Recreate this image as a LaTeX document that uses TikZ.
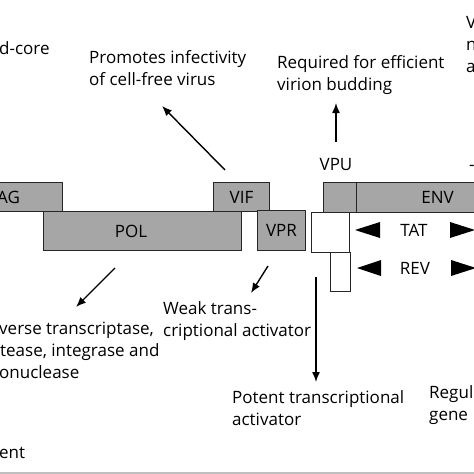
\documentclass[tikz,border=0pt]{standalone}
\usepackage{fontspec}
\setmainfont{Open Sans}
\usetikzlibrary{arrows.meta}

\tikzset{
  gene/.style={draw=black!85, fill=black!35, line width=1.1pt,
    minimum height=29pt, inner sep=0pt, anchor=north west,
    font=\fontsize{17}{22}\selectfont},
  regbox/.style={draw=black!85, fill=white, line width=1.1pt,
    inner sep=0pt, anchor=north west},
  txt/.style={anchor=base west, align=left, inner sep=0pt,
    font=\fontsize{17}{22}\selectfont},
  arr/.style={line width=1.4pt, -{Latex[length=10pt,width=8pt]}}
}

\begin{document}
\begin{tikzpicture}[x=1pt, y=-1pt]
    \useasboundingbox (0,0) rectangle (474,474);
    \clip (0,0) rectangle (474,474);

    % genes
    \node[gene, minimum width=108pt] (gag) at (-46,182) {AG};
    \node[gene, minimum width=198pt, minimum height=39pt] (pol) at (43,211) {};
    \node[txt, anchor=center] (pollbl) at (131,231) {POL};
    \node[gene, minimum width=56pt] (vif) at (213,182) {VIF};
    \node[gene, minimum width=48pt, minimum height=40pt] (vpr) at (257,210) {VPR};
    \node[gene, minimum width=33pt, minimum height=30pt] (vpu) at (323,182) {};
    \node[gene, minimum width=162pt, minimum height=30pt] (env) at (356,182) {ENV};
    \node[regbox, minimum width=38pt, minimum height=40pt] (tat) at (311,212) {};
    \node[regbox, minimum width=20pt, minimum height=39pt] (rev) at (330,252) {};

    % exon markers
    \node[txt, anchor=center] (tatlbl) at (414,230) {TAT};
    \node[txt, anchor=center] (revlbl) at (415,268) {REV};
    \fill (355,230) -- (380,222) -- (380,238) -- cycle;
    \fill (450,222) -- (475,230) -- (450,238) -- cycle;
    \fill (357,268) -- (381,260) -- (381,276) -- cycle;
    \fill (451,260) -- (476,268) -- (451,276) -- cycle;

    % labels (base = last line)
    \node[txt] (core) at (-1,54) {d-core};
    \node[txt] (vifinfo) at (89,85) {Promotes infectivity\\of cell-free virus};
    \node[txt] (vpuinfo) at (277,90) {Required for efficient\\virion budding};
    \node[txt] (envinfo) at (466,72) {V\\n\\a};
    \node[txt, anchor=base] (vpulbl) at (336,170) {VPU};
    \node[txt] (dash) at (469,170) {-};
    \node[txt] (polinfo) at (-1,378) {verse transcriptase,\\\hspace*{1pt}tease, integrase and\\onuclease};
    \node[txt] (vprinfo) at (163,336) {Weak trans-\\criptional activator};
    \node[txt] (tatinfo) at (232,425) {Potent transcriptional\\activator};
    \node[txt] (revinfo) at (429,420) {Regul\\gene};
    \node[txt] (ent) at (-1,458) {ent};

    % arrows
    \coordinate (viftail) at (225,170);
    \coordinate (viftip) at (162,106);
    \coordinate (vputail) at (336,142);
    \coordinate (vputip) at (336,103);
    \coordinate (poltail) at (115,268);
    \coordinate (poltip) at (76,307);
    \coordinate (vprtail) at (268,266);
    \coordinate (vprtip) at (251,293);
    \coordinate (tattail) at (316,277);
    \coordinate (tattip) at (316,382);
    \draw[arr] (viftail) -- (viftip);
    \draw[arr] (vputail) -- (vputip);
    \draw[arr] (poltail) -- (poltip);
    \draw[arr] (vprtail) -- (vprtip);
    \draw[arr] (tattail) -- (tattip);

    % bottom rule
    \fill[black!25] (0,472) rectangle (474,474);
\end{tikzpicture}
\end{document}
